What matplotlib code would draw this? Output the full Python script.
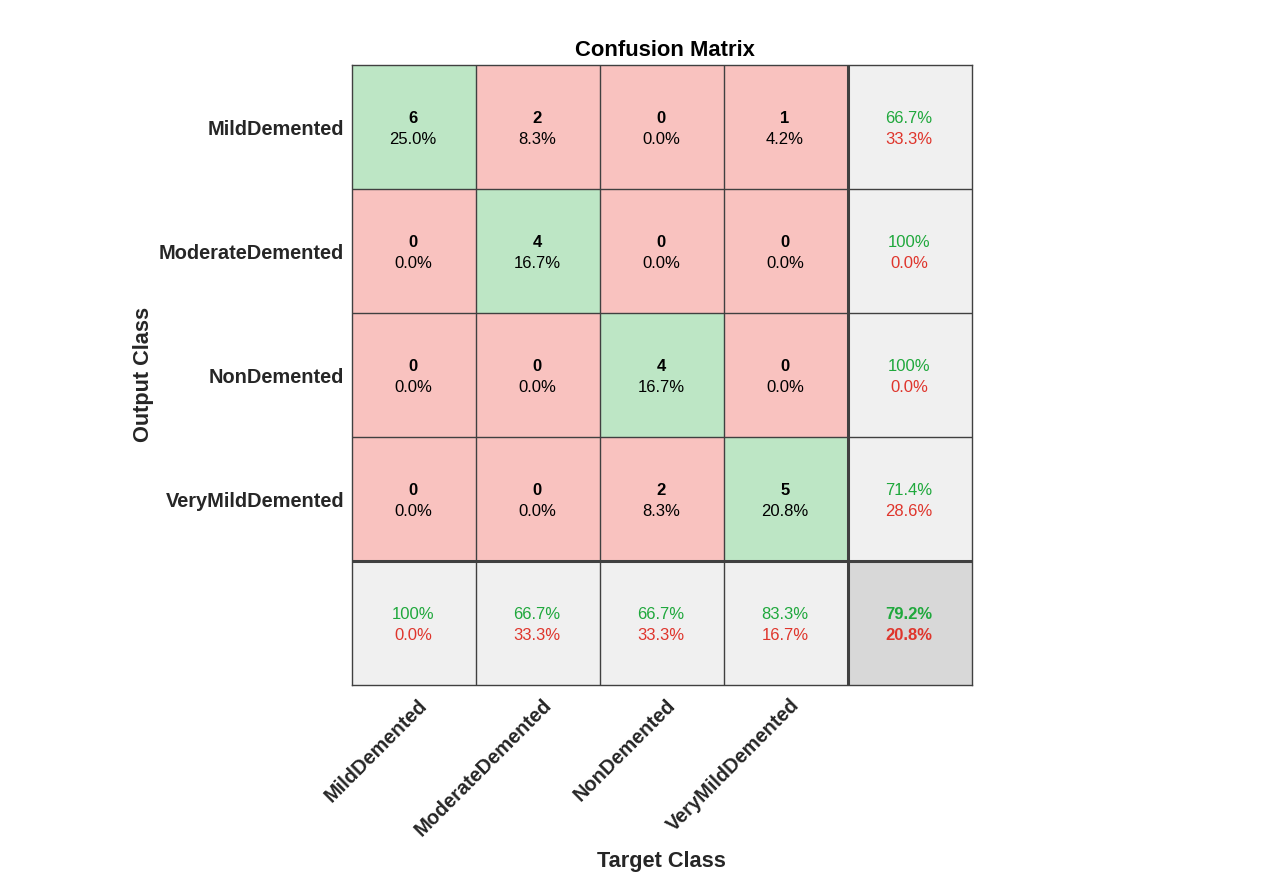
import matplotlib
matplotlib.use("Agg")
import matplotlib.pyplot as plt
from matplotlib.patches import Rectangle

plt.rcParams["font.family"] = ["Liberation Sans", "DejaVu Sans"]

classes = ["MildDemented", "ModerateDemented", "NonDemented", "VeryMildDemented"]

counts = [[6, 2, 0, 1],
          [0, 4, 0, 0],
          [0, 0, 4, 0],
          [0, 0, 2, 5]]
percents = [["25.0%", "8.3%", "0.0%", "4.2%"],
            ["0.0%", "16.7%", "0.0%", "0.0%"],
            ["0.0%", "0.0%", "16.7%", "0.0%"],
            ["0.0%", "0.0%", "8.3%", "20.8%"]]

# precision per row, recall per column
row_good = ["66.7%", "100%", "100%", "71.4%"]
row_bad = ["33.3%", "0.0%", "0.0%", "28.6%"]
col_good = ["100%", "66.7%", "66.7%", "83.3%"]
col_bad = ["0.0%", "33.3%", "33.3%", "16.7%"]
total_good = "79.2%"
total_bad = "20.8%"

c_green = "#bde6c5"
c_red = "#f9c2bf"
c_grey = "#f0f0f0"
c_total = "#d8d8d8"
c_line = "#404040"
c_txt_green = "#1fa83c"
c_txt_red = "#df352c"
c_label = "#262626"

n = len(classes)
W, H = 1280, 872
fig = plt.figure(figsize=(W / 100, H / 100), dpi=100)
ax = fig.add_axes([352 / W, 1 - 685 / H, 620 / W, 620 / H])
ax.set_xlim(0, n + 1)
ax.set_ylim(n + 1, 0)


def cell(row, col, color):
    ax.add_patch(Rectangle((col, row), 1, 1, facecolor=color, edgecolor="none", zorder=1))


def two_lines(row, col, top, bottom, top_kw, bottom_kw):
    ax.text(col + 0.492, row + 0.428, top, ha="center", va="center", fontsize=12, zorder=3, **top_kw)
    ax.text(col + 0.492, row + 0.598, bottom, ha="center", va="center", fontsize=12, zorder=3, **bottom_kw)


for i in range(n):
    for j in range(n):
        cell(i, j, c_green if i == j else c_red)
        two_lines(i, j, str(counts[i][j]), percents[i][j],
                  dict(color="black", fontweight="bold"), dict(color="black"))
    cell(i, n, c_grey)
    two_lines(i, n, row_good[i], row_bad[i], dict(color=c_txt_green), dict(color=c_txt_red))
    cell(n, i, c_grey)
    two_lines(n, i, col_good[i], col_bad[i], dict(color=c_txt_green), dict(color=c_txt_red))
cell(n, n, c_total)
two_lines(n, n, total_good, total_bad,
          dict(color=c_txt_green, fontweight="bold"), dict(color=c_txt_red, fontweight="bold"))

# grid, the last one before the summary is heavier
for k in range(1, n + 1):
    lw = 2.2 if k == n else 1.0
    ax.axvline(k, color=c_line, lw=lw, zorder=2)
    ax.axhline(k, color=c_line, lw=lw, zorder=2)

for s in ax.spines.values():
    s.set_color(c_line)
    s.set_linewidth(1.0)

ax.tick_params(length=0)
ax.set_xticks([])
ax.set_yticks([i + 0.5 for i in range(n)])
ax.set_yticklabels(classes, fontsize=14.4, fontweight="bold", color=c_label)
ax.tick_params(axis="y", pad=5.5)

for j, name in enumerate(classes):
    ax.annotate(name, xy=(j + 0.5, 0), xycoords=("data", "axes fraction"),
                xytext=(7.5, -12.5), textcoords="offset points", rotation=45,
                rotation_mode="anchor", ha="right", va="center",
                fontsize=14.4, fontweight="bold", color=c_label)

fig.text(665 / W, 1 - 51 / H, "Confusion Matrix", ha="center", va="center",
         fontsize=15.8, fontweight="bold", color="black")
fig.text(661 / W, 1 - 861 / H, "Target Class", ha="center", va="center",
         fontsize=15.7, fontweight="bold", color=c_label)
fig.text(144 / W, 1 - 374.5 / H, "Output Class", ha="center", va="center", rotation=90,
         fontsize=15.7, fontweight="bold", color=c_label)

fig.savefig("out.png", dpi=100)
